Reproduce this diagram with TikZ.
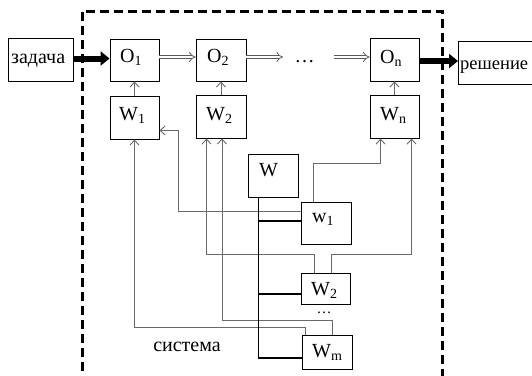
\documentclass[tikz,border=0pt]{standalone}
\usepackage{fontspec}
\setmainfont{Liberation Serif}
\usetikzlibrary{arrows.meta,calc}
\definecolor{ln}{RGB}{105,105,105}
\definecolor{dl}{RGB}{90,90,90}
\begin{document}
\begin{tikzpicture}[x=1pt,y=-1pt,
  box/.style={draw=black, line width=0.9pt, rectangle, inner sep=0pt},
  txt/.style={inner sep=0pt, anchor=base west, font=\fontsize{20}{24}\selectfont},
  g/.style={draw=ln, line width=0.9pt},
  ga/.style={g, -{Straight Barb[length=5pt,width=9pt]}},
  bk/.style={draw=black, line width=1.4pt},
  fat/.style={draw=black, line width=6pt, -{Triangle[length=9pt,width=14pt]}},
  dbl/.style={draw=dl, line width=0.8pt, double=white, double distance=2.6pt, -{Implies}},
  frame/.style={draw=black, line width=3pt, dash pattern=on 9pt off 5pt}]
\useasboundingbox (0,0) rectangle (532,375);
\clip (0,0) rectangle (532,375);
% frame
\draw[frame] (82,385) -- (82,11) -- (442,11) -- (442,385);
% boxes
\node[box, minimum width=65pt, minimum height=43pt] (zad) at (40.5,59.5) {};
\node[box, minimum width=49pt, minimum height=42pt] (O1) at (134.5,60) {};
\node[box, minimum width=50pt, minimum height=42pt] (O2) at (221,60) {};
\node[box, minimum width=49pt, minimum height=43pt] (On) at (394.5,59.5) {};
\node[box, minimum width=90pt, minimum height=43pt, anchor=west] (res) at (458,62.5) {};
\node[box, minimum width=49pt, minimum height=43pt] (W1) at (134.5,117.5) {};
\node[box, minimum width=50pt, minimum height=43pt] (W2) at (221,116.5) {};
\node[box, minimum width=49pt, minimum height=43pt] (Wn) at (394.5,116.5) {};
\node[box, minimum width=50pt, minimum height=43pt] (W) at (273,175.5) {};
\node[box, minimum width=50pt, minimum height=42pt] (w1) at (326,223) {};
\node[box, minimum width=49pt, minimum height=31pt] (V2) at (325.5,288.5) {};
\node[box, minimum width=50pt, minimum height=34pt] (Wm) at (327,352) {};
% texts
\node[txt] (tzad) at (11,63) {задача};
\node[txt] (tO1) at (120,62.5) {O\textsubscript{1}};
\node[txt] (tO2) at (207,62.5) {O\textsubscript{2}};
\node[txt] (tOn) at (380,63) {O\textsubscript{n}};
\node[txt, font=\fontsize{18.5}{22}\selectfont] (tres) at (460,69) {решение};
\node[txt] (tW1) at (119,120.5) {W\textsubscript{1}};
\node[txt] (tW2) at (206,120) {W\textsubscript{2}};
\node[txt] (tWn) at (380,120.5) {W\textsubscript{n}};
\node[txt] (tW) at (259,176.5) {W};
\node[txt] (tw1) at (312,222) {w\textsubscript{1}};
\node[txt] (tV2) at (311,295) {W\textsubscript{2}};
\node[txt] (tWm) at (312,357) {W\textsubscript{m}};
\node[txt, anchor=base] (tsys) at (187,351) {система};
\node[txt, anchor=base] (dots) at (304.5,62) {…};
\node[txt, anchor=base, font=\fontsize{15}{18}\selectfont] (dots2) at (324,313) {…};
% main flow
\coordinate (d1) at (283,57);
\coordinate (d2) at (334,57);
\draw[fat] ($(zad.east)+(0,-1)$) -- ($(O1.west)+(0,-1.5)$);
\draw[dbl] ($(O1.east)+(0,-3)$) -- ($(O2.west)+(0,-3)$);
\draw[dbl] ($(O2.east)+(0,-3)$) -- (d1);
\draw[dbl] (d2) -- ($(On.west)+(0,-2.5)$);
\draw[fat] ($(On.east)+(0,1.5)$) -- ($(res.west)+(0,-1.5)$);
% W -> O
\draw[ga] (W1) -- (O1);
\draw[ga] (W2) -- (O2);
\draw[ga] (Wn) -- (On);
% feedback lines
\draw[ga] ($(Wm.north west)+(4,0)$) -- ++(0,-7) -| (W1.south);
\draw[ga] ($(w1.north west)+(0,10)$) -| ($(W1.south east)+(19,-9)$) -- ($(W1.south east)+(0,-9)$);
\draw[ga] ($(V2.north west)+(14,0)$) -- ++(0,-18) -| ($(W2.south west)+(11,0)$);
\draw[ga] ($(Wm.north west)+(31,0)$) -- ++(0,-14) -| ($(W2.south)+(1,0)$);
\draw[ga] ($(w1.north west)+(13,0)$) -- ++(0,-38) -| ($(Wn.south west)+(11,0)$);
\draw[ga] ($(V2.north west)+(31,0)$) -- ++(0,-18) -| ($(Wn.south west)+(42,0)$);
% W bus
\draw[bk] ($(W.south west)+(11,0)$) |- ($(Wm.west)+(0,6)$);
\draw[bk] ($(W.south west)+(11,0)$) |- ($(w1.west)+(0,-2)$);
\draw[bk] ($(W.south west)+(11,0)$) |- ($(V2.west)+(0,5.5)$);
\end{tikzpicture}
\end{document}
